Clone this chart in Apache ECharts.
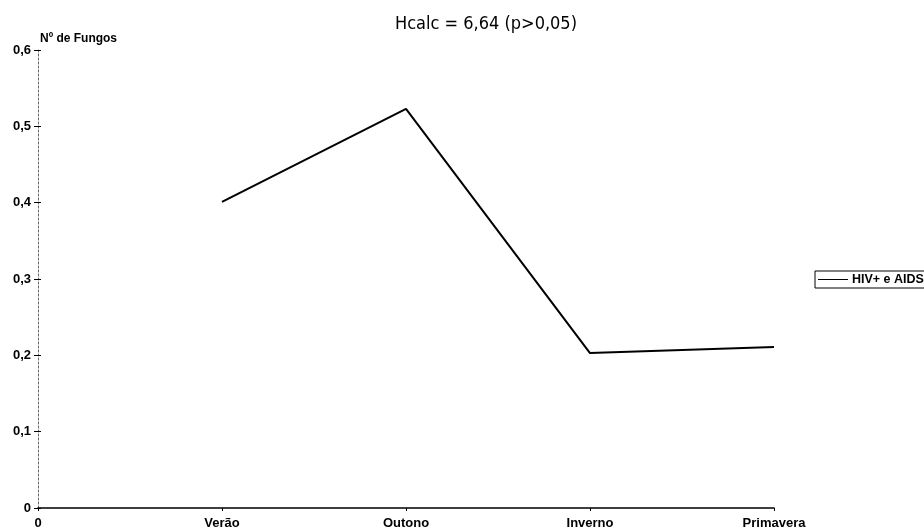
<!DOCTYPE html>
<html>
<head>
<meta charset="utf-8">
<script src="https://cdn.jsdelivr.net/npm/echarts@6/dist/echarts.min.js"></script>
<style>html,body{margin:0;padding:0;background:#fff}#c{width:924px;height:531px}</style>
</head>
<body>
<div id="c"></div>
<script>
const categories = ['0', 'Verão', 'Outono', 'Inverno', 'Primavera'];
const seriesName = 'HIV+ e AIDS';
const values = [null, 0.401, 0.523, 0.203, 0.211];
const titleText = 'Hcalc = 6,64 (p>0,05)';
const yAxisName = 'Nº de Fungos';

const chart = echarts.init(document.getElementById('c'), null, {renderer: 'canvas'});
const boldFont = {fontFamily: 'Liberation Sans, Arial, sans-serif', fontWeight: 'bold', fontSize: 13, color: '#000'};
chart.setOption({
  animation: false,
  backgroundColor: '#fff',
  title: {
    text: titleText, left: 481, top: 10, textAlign: 'center',
    textStyle: {fontFamily: 'DejaVu Sans Condensed, Liberation Sans, sans-serif', fontWeight: 'normal', fontSize: 18, color: '#000'}
  },
  legend: {
    left: 815, top: 271, orient: 'vertical',
    borderColor: '#000', borderWidth: 1, padding: [2, 30, 2, 3],
    itemWidth: 30, itemHeight: 12, itemGap: 0,
    textStyle: Object.assign({}, boldFont, {fontSize: 12.5, padding: [0, 0, 0, -1]}),
    data: [{name: seriesName, icon: 'path://M0,5 L30,5 L30,6 L0,6 Z'}]
  },
  grid: {left: 38, right: 150, top: 50, bottom: 23, containLabel: false},
  xAxis: {
    type: 'category', data: categories, boundaryGap: false,
    axisLine: {lineStyle: {color: '#000', width: 1.5}},
    axisTick: {show: true, length: 3, lineStyle: {color: '#000', width: 1}},
    axisLabel: Object.assign({}, boldFont, {margin: 9}),
    splitLine: {show: false}
  },
  yAxis: [{
    type: 'value', min: 0, max: 0.6, interval: 0.1,
    name: yAxisName, nameGap: 3, nameLocation: 'end',
    nameTextStyle: Object.assign({}, boldFont, {fontSize: 12, align: 'left', padding: [0, 0, 2, 2]}),
    axisLine: {show: true, lineStyle: {color: '#666', width: 1, type: [2, 2]}},
    axisTick: {show: true, length: 4, lineStyle: {color: '#000', width: 1}},
    axisLabel: Object.assign({}, boldFont, {margin: 7,
      formatter: v => v === 0 ? '0' : v.toFixed(1).replace('.', ',')}),
    splitLine: {show: false}
  }, {
    type: 'value', min: 0, max: 0.6, interval: 0.1, position: 'left',
    axisLine: {show: false},
    axisTick: {show: true, inside: true, length: 3, lineStyle: {color: '#000', width: 1}},
    axisLabel: {show: false}, splitLine: {show: false}
  }],
  series: [{
    name: seriesName, type: 'line', data: values, yAxisIndex: 0,
    symbol: 'none', connectNulls: false,
    lineStyle: {color: '#000', width: 2}, itemStyle: {color: '#000'}
  }]
});
</script>
</body>
</html>
